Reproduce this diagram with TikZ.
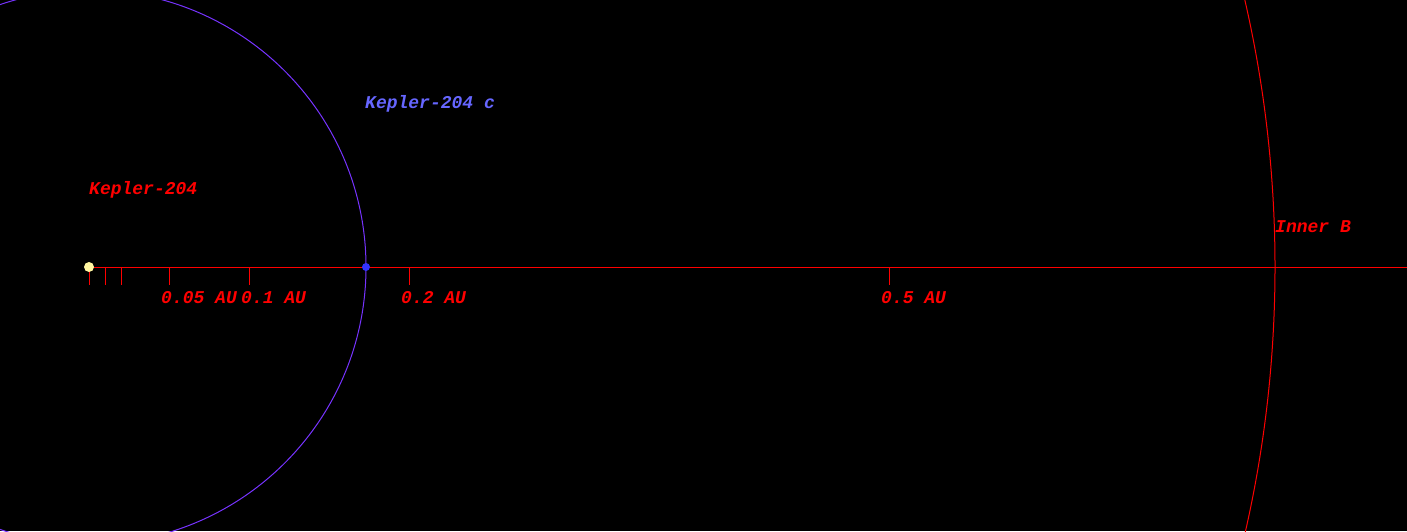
\documentclass[tikz,border=0pt]{standalone}
\usepackage{fontspec}
\newfontfamily\monoface{Liberation Mono}
\definecolor{orbitc}{HTML}{7733FF}
\definecolor{planetc}{HTML}{3333FF}
\definecolor{planetlbl}{HTML}{6666FF}
\definecolor{starc}{HTML}{FFF5A0}
\definecolor{redc}{HTML}{FF0000}
\begin{document}
\begin{tikzpicture}[x=1pt,y=-1pt,
  lbl/.style={anchor=base west,inner sep=0pt,font=\monoface\bfseries\itshape\fontsize{18}{20}\selectfont},
  redlbl/.style={lbl,text=redc},
  tick/.style={draw=redc,line width=1pt},
  axis/.style={draw=redc,line width=1pt}]
\fill[black] (0,0) rectangle (1407,531);
\useasboundingbox (0,0) rectangle (1407,531);
\begin{scope}
\clip (0,0) rectangle (1407,531);
% orbits
\draw[orbitc,line width=1pt] (89,267) circle[radius=277];
\draw[redc,line width=1pt] (89,267) circle[radius=1186];
% axis
\coordinate (axend) at (1407,267);
\coordinate (axstart) at (89,267);
\draw[axis] (axstart) -- (axend);
\foreach \x in {89,105,121,169,249,409,889}{\draw[tick] (\x,267) -- (\x,285);}
% star and planet
\node[circle,fill=starc,minimum size=10pt,inner sep=0pt] (star) at (89,267) {};
\node[circle,fill=planetc,minimum size=8pt,inner sep=0pt] (planet) at (366,267) {};
\end{scope}
% labels
\node[redlbl] (starlbl) at (89,194) {Kepler-204};
\node[lbl,text=planetlbl] (planetlbl) at (365,108) {Kepler-204 c};
\node[redlbl] (l005) at (161,303) {0.05 AU};
\node[redlbl] (l01) at (241,303) {0.1 AU};
\node[redlbl] (l02) at (401,303) {0.2 AU};
\node[redlbl] (l05) at (881,303) {0.5 AU};
\node[redlbl] (innerb) at (1275,232) {Inner B};
\end{tikzpicture}
\end{document}
